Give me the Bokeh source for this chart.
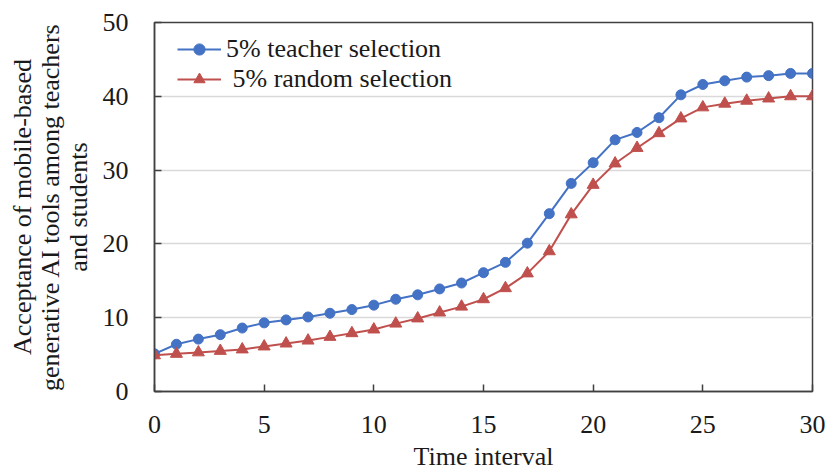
from bokeh.plotting import figure
from bokeh.models import Range1d, SingleIntervalTicker, Legend, LegendItem
from bokeh.embed import file_html
from bokeh.resources import INLINE

time_interval = list(range(31))
teacher_selection = [5.1, 6.4, 7.1, 7.7, 8.6, 9.3, 9.7, 10.1, 10.6, 11.1, 11.7,
                     12.5, 13.1, 13.9, 14.7, 16.1, 17.5, 20.1, 24.1, 28.2, 31.0,
                     34.1, 35.1, 37.1, 40.2, 41.6, 42.1, 42.6, 42.8, 43.1, 43.1]
random_selection = [4.9, 5.1, 5.3, 5.5, 5.7, 6.1, 6.5, 6.9, 7.4, 7.9, 8.4,
                    9.2, 9.9, 10.7, 11.5, 12.5, 14.0, 16.0, 19.0, 24.0, 28.0,
                    30.9, 33.0, 35.0, 37.0, 38.5, 39.0, 39.4, 39.7, 40.0, 40.0]
labels = ["5% teacher selection", " 5% random selection"]
y_label = "Acceptance of mobile-based\ngenerative AI tools among teachers\nand students"
x_label = "Time interval"

FONT = "Liberation Serif"
FS = "26px"
TXT = "#1a1a1a"
BLUE = "#4472C4"
RED = "#C0504D"
FRAME = "#404040"

p = figure(width=833, height=473, output_backend="svg", toolbar_location=None,
           x_range=Range1d(0, 30), y_range=Range1d(0, 50),
           min_border_left=154, min_border_right=21, min_border_top=22,
           min_border_bottom=82)
p.background_fill_color = "white"
p.border_fill_color = "white"
p.outline_line_color = FRAME
p.outline_line_width = 1.5

p.xaxis.ticker = SingleIntervalTicker(interval=5)
p.yaxis.ticker = SingleIntervalTicker(interval=10)
for ax in (p.xaxis[0], p.yaxis[0]):
    ax.axis_line_color = FRAME
    ax.axis_line_width = 1.5
    ax.major_tick_line_color = FRAME
    ax.major_tick_line_width = 1.5
    ax.major_tick_in = 7
    ax.major_tick_out = 0
    ax.minor_tick_line_color = None
    ax.major_label_text_font = FONT
    ax.major_label_text_font_size = FS
    ax.major_label_text_color = TXT
    ax.axis_label_text_font = FONT
    ax.axis_label_text_font_size = FS
    ax.axis_label_text_font_style = "normal"
    ax.axis_label_text_color = TXT

p.xaxis.axis_label = x_label
p.yaxis.axis_label = y_label
p.yaxis.axis_label_text_line_height = 0.95
p.xaxis.major_label_standoff = 20
p.yaxis.major_label_standoff = 22
p.xaxis.axis_label_standoff = 6
p.yaxis.axis_label_standoff = 7

p.xgrid.grid_line_color = None
p.ygrid.grid_line_color = "#D9D9D9"
p.ygrid.grid_line_width = 1.5

l1 = p.line(time_interval, teacher_selection, line_color=BLUE, line_width=2)
s1 = p.scatter(time_interval, teacher_selection, marker="circle", size=10,
               fill_color=BLUE, line_color=BLUE)
l2 = p.line(time_interval, random_selection, line_color=RED, line_width=2)
s2 = p.scatter(time_interval, random_selection, marker="triangle", size=12,
               fill_color=RED, line_color=RED)

legend = Legend(items=[LegendItem(label=labels[0], renderers=[l1, s1]),
                       LegendItem(label=labels[1], renderers=[l2, s2])],
                location=(23, 297), orientation="vertical",
                label_text_font=FONT, label_text_font_size=FS,
                label_text_color=TXT)
legend.border_line_color = None
legend.background_fill_alpha = 0
legend.padding = 0
legend.margin = 0
legend.spacing = 0
legend.glyph_width = 44
legend.glyph_height = 28
legend.label_height = 28
legend.label_standoff = 5
p.add_layout(legend, "center")

open("out.html", "w").write(file_html(p, INLINE))
